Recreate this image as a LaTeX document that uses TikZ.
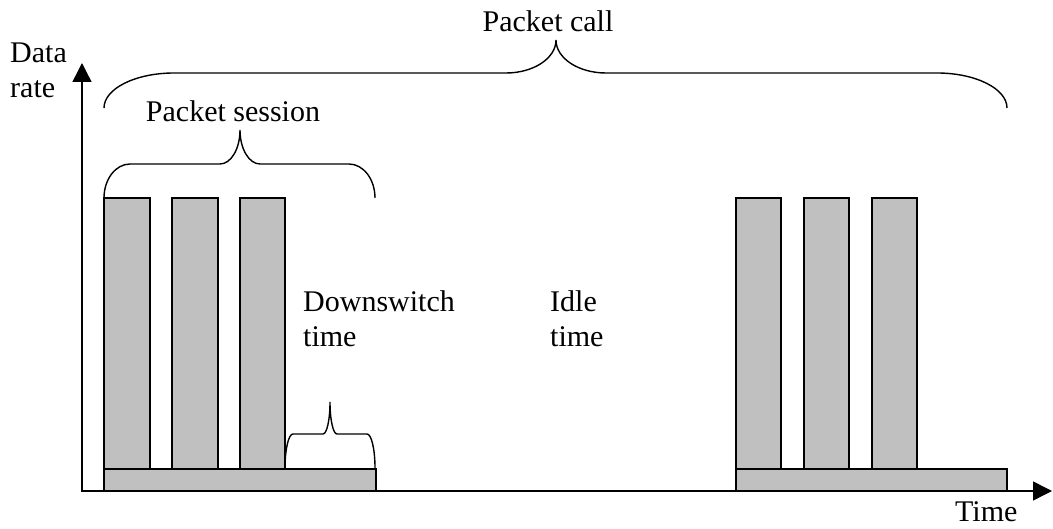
\documentclass[tikz,border=0pt]{standalone}
\usepackage{fontspec}
\setmainfont{Liberation Serif}
\usetikzlibrary{arrows.meta}

% Brace in the word-processor style: rounded ends, cusp in the middle.
% #1 left x, #2 right x, #3 y of the ends, #4 y of the flat part,
% #5 x of the cusp, #6 y of the cusp, #7 corner width, #8 cusp width
\newcommand{\wordbrace}[8]{%
  \draw[bracestyle] (#1,#3)
    .. controls (#1,{#3-0.552*(#3-#4)}) and ({#1+#7-0.552*#7},#4) .. ({#1+#7},#4)
    -- ({#5-#8},#4)
    .. controls ({#5-#8+0.552*#8},#4) and (#5,{#6+0.552*(#4-#6)}) .. (#5,#6)
    .. controls (#5,{#6+0.552*(#4-#6)}) and ({#5+#8-0.552*#8},#4) .. ({#5+#8},#4)
    -- ({#2-#7},#4)
    .. controls ({#2-#7+0.552*#7},#4) and (#2,{#3-0.552*(#3-#4)}) .. (#2,#3);}

\definecolor{bargray}{HTML}{C0C0C0}

\begin{document}
\begin{tikzpicture}[x=1pt,y=-1pt,
  bar/.style={fill=bargray,draw=black,line width=1.2pt},
  bracestyle/.style={draw=black,line width=1.4pt},
  axis/.style={draw=black,line width=1.4pt,-{Triangle[length=19pt,width=19pt]}},
  label/.style={inner sep=0pt,font=\fontsize{30}{35}\selectfont,align=left},
]
\useasboundingbox (0,0) rectangle (1053,529);

% first burst of packets
\draw[bar] (104,469) rectangle (376,491);
\draw[bar] (104,198) rectangle (150,469);
\draw[bar] (172,198) rectangle (218,469);
\draw[bar] (240,198) rectangle (285,469);

% second burst of packets
\draw[bar] (736,469) rectangle (1007,491);
\draw[bar] (736,198) rectangle (781,469);
\draw[bar] (804,198) rectangle (849,469);
\draw[bar] (872,198) rectangle (917,469);

% axes
\coordinate (origin) at (82,491);
\coordinate (ytop) at (82,63);
\coordinate (xleft) at (81,491);
\coordinate (xright) at (1052,491);
\draw[axis] (origin) -- (ytop);
\draw[axis] (xleft) -- (xright);

% braces
\wordbrace{104}{1007}{108}{73}{556}{40}{70}{50}
\wordbrace{104}{375}{198}{164}{240}{130}{26}{20}
\wordbrace{285}{375}{468}{434}{330}{402}{8}{7}

% labels
\node[label,anchor=base] (call) at (548,32) {Packet call};
\node[label,anchor=base] (session) at (233,122) {Packet session};
\node[label,anchor=base west] (ylab) at (10,98) {Data\\rate};
\node[label,anchor=base west] (down) at (303,347) {Downswitch\\time};
\node[label,anchor=base west] (idle) at (550,347) {Idle\\time};
\node[label,anchor=base west] (xlab) at (955,521) {Time};
\end{tikzpicture}
\end{document}
